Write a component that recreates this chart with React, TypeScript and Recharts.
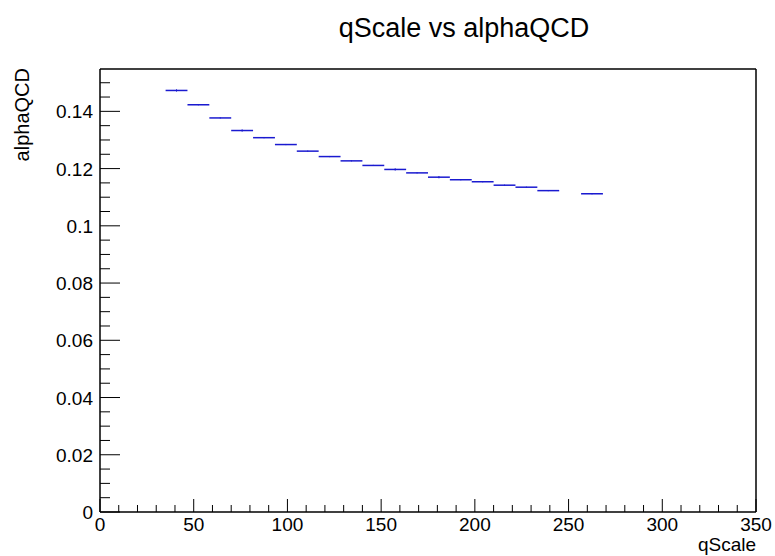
import { ScatterChart, Scatter, XAxis, YAxis, ErrorBar, ReferenceLine } from "recharts";

// profile bins: centre of bin, mean alphaQCD, half bin width, error on mean
const binCenters = [40.83, 52.5, 64.17, 75.83, 87.5, 99.17, 110.83, 122.5, 134.17, 145.83, 157.5, 169.17, 180.83, 192.5, 204.17, 215.83, 227.5, 239.17, 262.5];
const alphaValues = [0.1473, 0.1423, 0.1377, 0.1333, 0.1308, 0.1284, 0.1261, 0.1242, 0.1227, 0.1211, 0.1197, 0.1185, 0.117, 0.1161, 0.1154, 0.1142, 0.1135, 0.1123, 0.1112];
const alphaErrors = [0.0004, 0.0002, 0.0002, 0.0004, 0.0002, 0.0002, 0.0002, 0.0002, 0.0002, 0.0002, 0.0004, 0.0002, 0.0004, 0.0002, 0.0002, 0.0002, 0.0002, 0.0002, 0.0002];
const halfWidth = 5.833;

const xMajorTicks = [0, 50, 100, 150, 200, 250, 300, 350];
const xMinorTicks = [0, 10, 20, 30, 40, 50, 60, 70, 80, 90, 100, 110, 120, 130, 140, 150, 160, 170, 180, 190, 200, 210, 220, 230, 240, 250, 260, 270, 280, 290, 300, 310, 320, 330, 340, 350];
const yMajorTicks = [0, 0.02, 0.04, 0.06, 0.08, 0.1, 0.12, 0.14];
const yMajorLabels = ["0", "0.02", "0.04", "0.06", "0.08", "0.1", "0.12", "0.14"];
const yMinorTicks = [0, 0.005, 0.01, 0.015, 0.02, 0.025, 0.03, 0.035, 0.04, 0.045, 0.05, 0.055, 0.06, 0.065, 0.07, 0.075, 0.08, 0.085, 0.09, 0.095, 0.1, 0.105, 0.11, 0.115, 0.12, 0.125, 0.13, 0.135, 0.14, 0.145, 0.15];

const X_MAX = 350;
const Y_MAX = 0.1548;
const FONT = "'Liberation Sans', Arial, sans-serif";
const LINE = "#1a1ad0";

const points = binCenters.map((x, i) => ({ x, y: alphaValues[i], ex: halfWidth, ey: alphaErrors[i] }));

const majorIndex = (list: number[], v: number) => list.findIndex(m => Math.abs(m - v) < 1e-9);

const XTick = (props: any) => {
    const { x, y, payload } = props;
    const major = majorIndex(xMajorTicks, payload.value) >= 0;
    return (
        <g>
            <line x1={x} x2={x} y1={y} y2={y - (major ? 13 : 7)} stroke="#000" />
            {major && (
                <text x={x} y={y + 19} textAnchor="middle" fontSize={19} fontFamily={FONT} fill="#000">
                    {payload.value}
                </text>
            )}
        </g>
    );
};

const YTick = (props: any) => {
    const { x, y, payload } = props;
    const idx = majorIndex(yMajorTicks, payload.value);
    return (
        <g>
            <line x1={x} x2={x + (idx >= 0 ? 20 : 10)} y1={y} y2={y} stroke="#000" />
            {idx >= 0 && (
                <text x={x - 7} y={y + 7} textAnchor="end" fontSize={19} fontFamily={FONT} fill="#000">
                    {yMajorLabels[idx]}
                </text>
            )}
        </g>
    );
};

export default function App() {
    return (
        <div style={{ position: "absolute", left: 0, top: 0, width: 775, height: 556, background: "#fff" }}>
            <ScatterChart width={775} height={556} margin={{ top: 69, right: 19, bottom: 43, left: 99 }}>
                <XAxis
                    type="number"
                    dataKey="x"
                    domain={[0, X_MAX]}
                    ticks={xMinorTicks}
                    interval={0}
                    height={1}
                    tickSize={0}
                    tickMargin={0}
                    tickLine={false}
                    tick={<XTick />}
                    axisLine={{ stroke: "#000", strokeWidth: 1.5 }}
                    allowDataOverflow
                />
                <YAxis
                    type="number"
                    dataKey="y"
                    domain={[0, Y_MAX]}
                    ticks={yMinorTicks}
                    interval={0}
                    width={1}
                    tickSize={0}
                    tickMargin={0}
                    tickLine={false}
                    tick={<YTick />}
                    axisLine={{ stroke: "#000", strokeWidth: 1.5 }}
                    allowDataOverflow
                />
                <ReferenceLine y={Y_MAX} stroke="#000" strokeWidth={1.5} />
                <ReferenceLine x={X_MAX} stroke="#000" strokeWidth={1.5} />
                <Scatter data={points} isAnimationActive={false} shape={() => <g />}>
                    <ErrorBar dataKey="ex" direction="x" width={0} stroke={LINE} strokeWidth={1.5} isAnimationActive={false} />
                    <ErrorBar dataKey="ey" direction="y" width={0} stroke={LINE} strokeWidth={1} isAnimationActive={false} />
                </Scatter>
            </ScatterChart>
            <svg width={775} height={556} style={{ position: "absolute", left: 0, top: 0, pointerEvents: "none" }}>
                <text x={464} y={37} textAnchor="middle" fontSize={27} fontFamily={FONT} fill="#000">
                    qScale vs alphaQCD
                </text>
                <text transform="translate(29,68) rotate(-90)" textAnchor="end" fontSize={20} fontFamily={FONT} fill="#000">
                    alphaQCD
                </text>
                <text x={756} y={551} textAnchor="end" fontSize={19} fontFamily={FONT} fill="#000">
                    qScale
                </text>
            </svg>
        </div>
    );
}
